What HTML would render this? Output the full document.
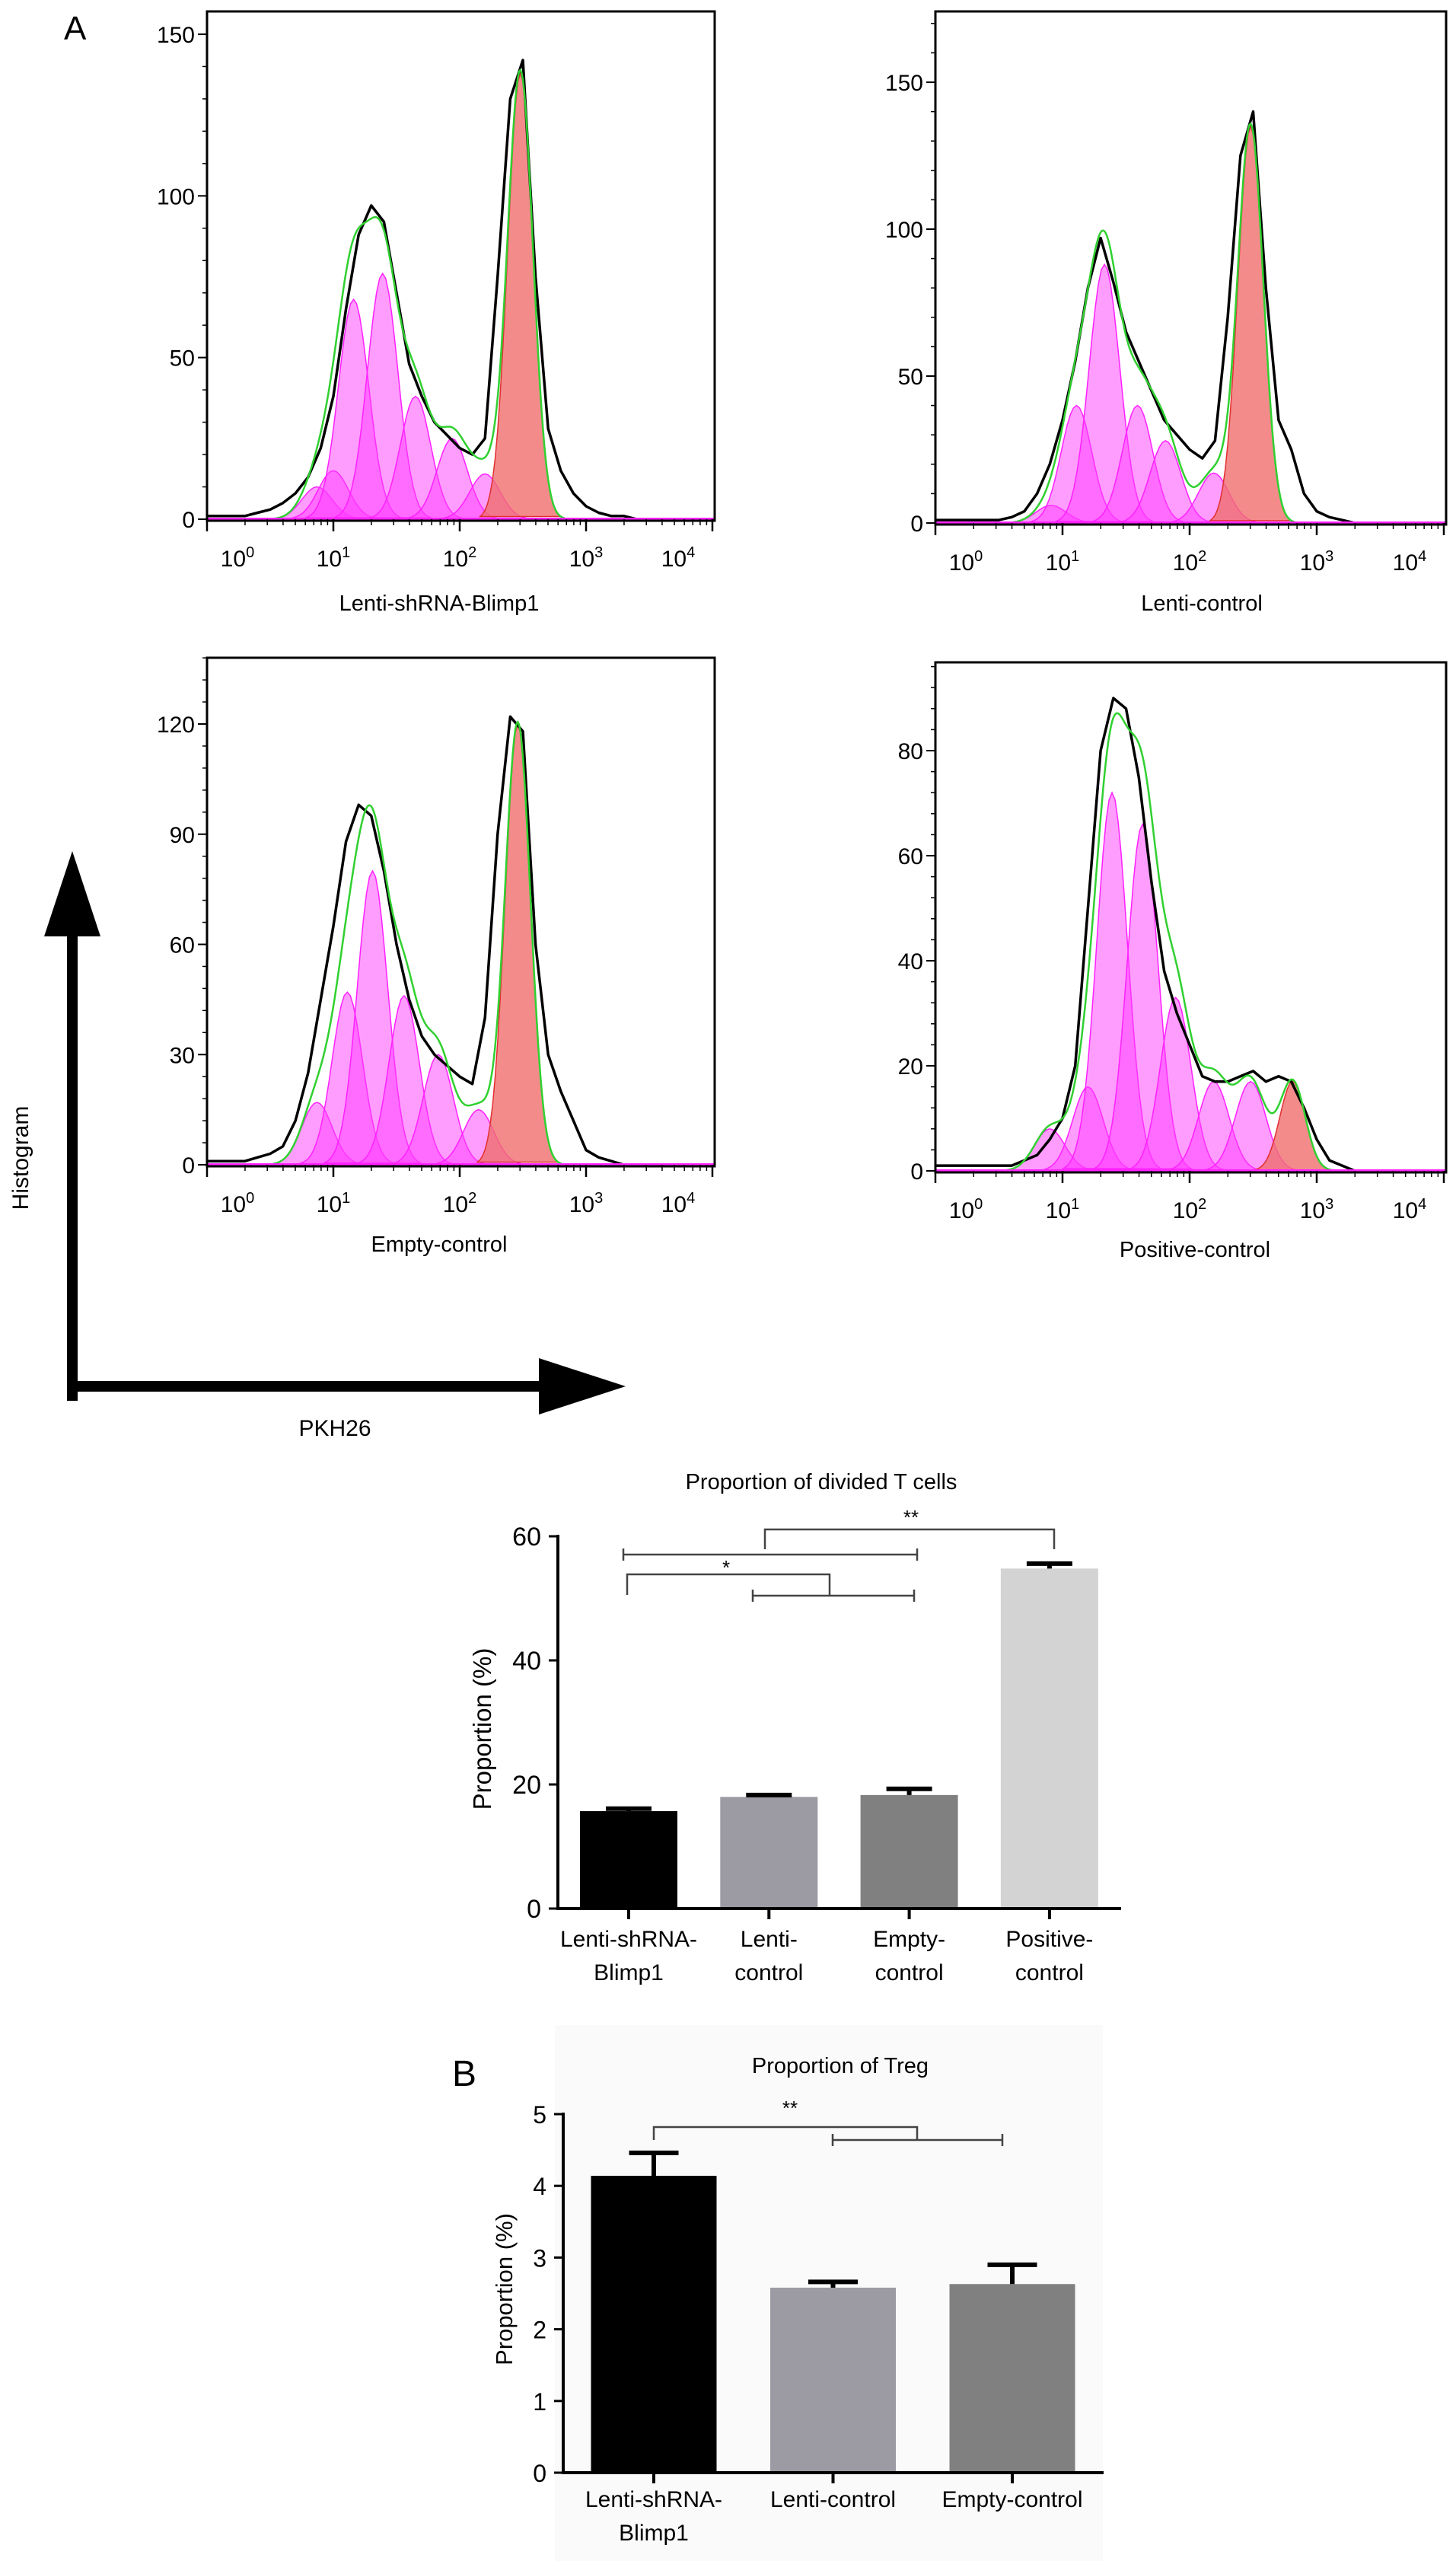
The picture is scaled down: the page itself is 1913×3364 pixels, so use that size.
<!DOCTYPE html>
<html><head><meta charset="utf-8"><style>
html,body{margin:0;padding:0;background:#fff;}
svg{display:block;font-family:"Liberation Sans",Arial,sans-serif;}
</style></head><body>
<svg id="fig" width="1913" height="3364" viewBox="0 0 1913 3364" xmlns="http://www.w3.org/2000/svg">
<rect width="1913" height="3364" fill="#fff"/>
<rect x="729" y="2660" width="720" height="704" fill="#fafafa"/>
<text x="84" y="52" font-size="44">A</text>
<text x="594" y="2740" font-size="48">B</text>
<g>
<line x1="95" y1="1840" x2="95" y2="1220" stroke="#000" stroke-width="14"/>
<polygon points="95,1118 58,1230 132,1230" fill="#000"/>
<line x1="88" y1="1821" x2="715" y2="1821" stroke="#000" stroke-width="14"/>
<polygon points="822,1821 708,1784 708,1858" fill="#000"/>
</g>
<text transform="translate(37,1521) rotate(-90)" text-anchor="middle" font-size="30">Histogram</text>
<text x="440" y="1886" text-anchor="middle" font-size="30">PKH26</text>
<g id="hists"></g>
<g id="bars1"></g>
<g id="bars2"></g>
</svg>
<script>
// ---------- Histogram data (log10 bins 0.0..4.0 step 0.1) ----------
const binLogs = [0,0.1,0.2,0.3,0.4,0.5,0.6,0.7,0.8,0.9,1.0,1.1,1.2,1.3,1.4,1.5,1.6,1.7,1.8,1.9,2.0,2.1,2.2,2.3,2.4,2.5,2.6,2.7,2.8,2.9,3.0,3.1,3.2,3.3,3.4,3.5,3.6,3.7,3.8,3.9,4.0];
const p1Counts = [1,1,1,1,2,3,5,8,13,22,38,65,88,97,92,70,48,38,30,26,22,20,25,75,130,142,75,28,15,8,4,2,1,1,0,0,0,0,0,0,0];
const p2Counts = [1,1,1,1,1,1,2,4,10,20,35,55,80,97,82,65,55,45,35,30,25,22,28,70,125,140,80,35,25,10,4,2,1,0,0,0,0,0,0,0,0];
const p3Counts = [1,1,1,1,2,3,5,12,25,45,65,88,98,95,80,60,45,35,30,27,24,22,40,90,122,118,60,30,20,12,4,2,1,0,0,0,0,0,0,0,0];
const p4Counts = [1,1,1,1,1,1,1,2,3,6,10,20,50,80,90,88,75,55,38,30,24,18,17,17,18,19,17,18,17,12,6,2,1,0,0,0,0,0,0,0,0];
// fitted generation components: centers (log10), heights; last entry = parent (red)
const p1Centers = [0.87,1.0,1.16,1.39,1.65,1.94,2.2,2.48];
const p1Heights = [10,15,68,76,38,25,14,138];
const p2Centers = [0.91,1.11,1.33,1.59,1.81,2.19,2.48];
const p2Heights = [6,40,88,40,28,17,135];
const p3Centers = [0.87,1.11,1.31,1.56,1.83,2.15,2.46];
const p3Heights = [17,47,80,46,30,15,120];
const p4Centers = [0.9,1.2,1.39,1.63,1.89,2.19,2.48,2.81];
const p4Heights = [8,16,72,66,33,17,17,17];
const p1Ticks = [0,50,100,150], p2Ticks = [0,50,100,150], p3Ticks = [0,30,60,90,120], p4Ticks = [0,20,40,60,80];
const p1Title = "Lenti-shRNA-Blimp1", p2Title = "Lenti-control", p3Title = "Empty-control", p4Title = "Positive-control";

const NS = "http://www.w3.org/2000/svg";
function mk(tag, attrs, parent){const e=document.createElementNS(NS,tag);for(const k in attrs)e.setAttribute(k,attrs[k]);parent.appendChild(e);return e;}

function drawHist(name, L, counts, centers, heights, ticks, title){
  const g = mk('g',{},document.getElementById('hists'));
  
  
  const sx = v => L.x0 + v*L.dec;
  const sy = v => L.y0 - v*L.ppu;
  const nC = centers.length;
  const sigOf = i => (i===nC-1 ? 0.1 : 0.12);
  for(let i=0;i<nC;i++){
    const red = i===nC-1;
    const sig = sigOf(i);
    let d = '';
    for(let s=-3.2;s<=3.2001;s+=0.2){
      const lv = centers[i]+s*sig;
      const y = heights[i]*Math.exp(-s*s/2);
      d += (d?'L':'M')+sx(lv).toFixed(1)+','+sy(y).toFixed(1);
    }
    const p = mk('path',{d:d+'Z',fill:red?'rgba(240,110,110,0.8)':'rgba(255,60,255,0.5)',stroke:red?'#e03030':'#ff20ff','stroke-width':1.5},g);
    
    
  }
  let pts=[];
  for(let i=0;i<binLogs.length;i++){
    pts.push(sx(binLogs[i]).toFixed(1)+','+sy(counts[i]).toFixed(1));
  }
  const pl = mk('polyline',{points:pts.join(' '),fill:'none',stroke:'#000','stroke-width':3.5,'stroke-linejoin':'round'},g);
  
  
  let fd='';
  for(let lv=centers[0]-0.35; lv<=centers[nC-1]+0.35; lv+=0.01){
    let y=0;for(let i=0;i<nC;i++){const z=(lv-centers[i])/sigOf(i);y+=heights[i]*Math.exp(-z*z/2);}
    fd+=(fd?'L':'M')+sx(lv).toFixed(1)+','+sy(y).toFixed(1);
  }
  const fp = mk('path',{d:fd,fill:'none',stroke:'#30d030','stroke-width':2.5},g);
  
  
  mk('line',{x1:L.x0,x2:L.x1,y1:L.y0,y2:L.y0,stroke:'#ff20ff','stroke-width':4},g);
  const bx = mk('rect',{x:L.x0,y:L.top,width:L.x1-L.x0,height:L.y0-L.top+2,fill:'none',stroke:'#000','stroke-width':3},g);
  
  
  for(const t of ticks){
    mk('line',{x1:L.x0-12,x2:L.x0,y1:sy(t),y2:sy(t),stroke:'#000','stroke-width':2},g);
    const tx = mk('text',{x:L.x0-16,y:sy(t)+11,'text-anchor':'end','font-size':30},g);
    tx.textContent = t;
    
    
  }
  const step=(ticks[1]-ticks[0])/5;
  for(let v=0; sy(v)>L.top; v+=step){ mk('line',{x1:L.x0-6,x2:L.x0,y1:sy(v),y2:sy(v),stroke:'#000','stroke-width':1.5},g); }
  for(let d=0; d<=4; d++){
    mk('line',{x1:sx(d),x2:sx(d),y1:L.y0,y2:L.y0+16,stroke:'#000','stroke-width':2.5},g);
    for(let k=2;k<10&&d<4;k++){const lx=sx(d+Math.log10(k));mk('line',{x1:lx,x2:lx,y1:L.y0,y2:L.y0+8,stroke:'#000','stroke-width':1.5},g);}
  }
  const labX=[sx(0)+40,sx(1),sx(2),sx(3),sx(4)-45];
  for(let d=0; d<=4; d++){
    const tx = mk('text',{x:labX[d],y:L.y0+62,'text-anchor':'middle','font-size':30},g);
    tx.innerHTML = '10<tspan dy="-12" font-size="20">'+d+'</tspan>';
    
    
  }
  const tt = mk('text',{x:L.titleX,y:L.titleY,'text-anchor':'middle','font-size':29},g);
  tt.textContent = title;
  
  
}
drawHist('hist-lenti-shrna-blimp1',{x0:272,x1:939,top:15,y0:682,dec:166,ppu:4.247,titleX:577,titleY:802},p1Counts,p1Centers,p1Heights,p1Ticks,p1Title);
drawHist('hist-lenti-control',{x0:1229,x1:1900,top:15,y0:687,dec:167,ppu:3.86,titleX:1579,titleY:802},p2Counts,p2Centers,p2Heights,p2Ticks,p2Title);
drawHist('hist-empty-control',{x0:272,x1:939,top:864,y0:1530,dec:166,ppu:4.825,titleX:577,titleY:1644},p3Counts,p3Centers,p3Heights,p3Ticks,p3Title);
drawHist('hist-positive-control',{x0:1229,x1:1900,top:870,y0:1538,dec:167,ppu:6.9,titleX:1570,titleY:1651},p4Counts,p4Centers,p4Heights,p4Ticks,p4Title);

// ---------- Bar chart 1 ----------
const cats1 = [["Lenti-shRNA-","Blimp1"],["Lenti-","control"],["Empty-","control"],["Positive-","control"]];
const vals1 = [15.7, 18.0, 18.3, 54.8];
const errs1 = [0.4, 0.3, 1.0, 0.8];
const ticks1 = [0,20,40,60];
const colors1 = ["#000","#9c9ba3","#808080","#d3d3d3"];
// ---------- Bar chart 2 ----------
const cats2 = [["Lenti-shRNA-","Blimp1"],["Lenti-control"],["Empty-control"]];
const vals2 = [4.14, 2.58, 2.63];
const errs2 = [0.32, 0.08, 0.27];
const ticks2 = [0,1,2,3,4,5];
const colors2 = ["#000","#9c9ba3","#808080"];

function drawBars(gid, L, cats, vals, errs, ticks, colors){
  const g = document.getElementById(gid);
  const sy = v => L.y0 - v*L.ppu;
  const cx = i => L.c0 + i*L.gap;
  for(let i=0;i<vals.length;i++){
    const r = mk('rect',{x:cx(i)-L.bw/2,y:sy(vals[i]),width:L.bw,height:L.y0-sy(vals[i]),fill:colors[i]},g);
    
    
    const ey = sy(vals[i]+errs[i]);
    const e = mk('path',{d:'M'+cx(i)+','+sy(vals[i])+'V'+ey+'M'+(cx(i)-L.cap/2)+','+ey+'H'+(cx(i)+L.cap/2),stroke:'#000','stroke-width':L.ew,fill:'none'},g);
    
    
    mk('line',{x1:cx(i),x2:cx(i),y1:L.y0,y2:L.y0+14,stroke:'#000','stroke-width':4},g);
    cats[i].forEach((s,j)=>{
      const t = mk('text',{x:cx(i),y:L.y0+L.lab0+j*44,'text-anchor':'middle','font-size':L.fs},g);
      t.textContent = s;
      
      
    });
  }
  mk('line',{x1:L.ax,x2:L.ax,y1:sy(ticks[ticks.length-1])-2,y2:L.y0+2,stroke:'#000','stroke-width':4},g);
  mk('line',{x1:L.ax-2,x2:L.xend,y1:L.y0,y2:L.y0,stroke:'#000','stroke-width':4},g);
  for(const t of ticks){
    mk('line',{x1:L.ax-12,x2:L.ax,y1:sy(t),y2:sy(t),stroke:'#000','stroke-width':3},g);
    const tx = mk('text',{x:L.ax-22,y:sy(t)+12,'text-anchor':'end','font-size':L.tfs},g);
    tx.textContent = t;
    
    
  }
}
drawBars('bars1',{y0:2507,ppu:8.15,c0:826,gap:184.3,bw:128,cap:60,ew:6,ax:733,xend:1473,lab0:50,fs:30,tfs:34},cats1,vals1,errs1,ticks1,colors1);
drawBars('bars2',{y0:3248,ppu:94.2,c0:859,gap:235.5,bw:165,cap:65,ew:6,ax:740,xend:1450,lab0:45,fs:30,tfs:32},cats2,vals2,errs2,ticks2,colors2);
</script>
<svg style="position:absolute;left:0;top:0" width="1913" height="3364">
<g font-family="Liberation Sans, Arial, sans-serif" fill="none" stroke="#444" stroke-width="2.5">
<text x="1079" y="1956" text-anchor="middle" font-size="29" fill="#000" stroke="none">Proportion of divided T cells</text>
<text transform="translate(645,2271) rotate(-90)" text-anchor="middle" font-size="33" fill="#000" stroke="none">Proportion (%)</text>
<path d="M1005,2035V2009H1385V2035"/>
<text x="1197" y="2002" text-anchor="middle" font-size="26" fill="#000" stroke="none">**</text>
<path d="M819,2042H1205M819,2034V2050M1205,2034V2050"/>
<path d="M824,2095V2068H1090V2096"/>
<text x="954" y="2068" text-anchor="middle" font-size="26" fill="#000" stroke="none">*</text>
<path d="M989,2096H1201M989,2088V2104M1201,2088V2104"/>
<text x="1104" y="2723" text-anchor="middle" font-size="29" fill="#000" stroke="none">Proportion of Treg</text>
<text transform="translate(673,3007) rotate(-90)" text-anchor="middle" font-size="31" fill="#000" stroke="none">Proportion (%)</text>
<path d="M859,2811V2794H1205V2811"/>
<text x="1038" y="2778" text-anchor="middle" font-size="26" fill="#000" stroke="none">**</text>
<path d="M1094,2811H1317M1094,2803V2819M1317,2803V2819"/>
</g>
</svg>
</body></html>
